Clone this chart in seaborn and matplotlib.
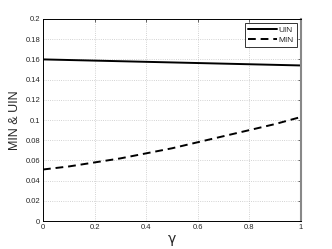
import numpy as np
import pandas as pd
import seaborn as sns
import matplotlib
matplotlib.use('Agg')
import matplotlib.pyplot as plt

gamma = [0.0, 0.1, 0.2, 0.3, 0.4, 0.5, 0.6, 0.7, 0.8, 0.9, 1.0]
uin = [0.160, 0.1594, 0.1588, 0.1582, 0.1576, 0.1570, 0.1564, 0.1558, 0.1552, 0.1546, 0.1540]
min_vals = [0.051, 0.054, 0.058, 0.062, 0.067, 0.072, 0.078, 0.084, 0.090, 0.096, 0.103]

df = pd.DataFrame({'gamma': gamma * 2,
                   'value': uin + min_vals,
                   'series': ['UIN'] * len(gamma) + ['MIN'] * len(gamma)})

sns.set_style('white')
plt.rcParams['font.family'] = ['Liberation Sans', 'DejaVu Sans']

fig = plt.figure(figsize=(3.32, 2.49), dpi=100)
ax = fig.add_axes([0.1295, 0.1124, 0.7771, 0.8113])
sns.lineplot(data=df, x='gamma', y='value', hue='series', style='series',
             palette=['black', 'black'], dashes={'UIN': '', 'MIN': (4, 2.5)},
             linewidth=1.4, ax=ax)
ax.set_xlim(0, 1)
ax.set_ylim(0, 0.2)
ax.set_xticks([0, 0.2, 0.4, 0.6, 0.8, 1])
ax.set_xticklabels(['0', '0.2', '0.4', '0.6', '0.8', '1'])
ax.set_yticks(np.arange(0, 0.201, 0.02))
ax.set_yticklabels(['0', '0.02', '0.04', '0.06', '0.08', '0.1', '0.12', '0.14', '0.16', '0.18', '0.2'])
ax.tick_params(direction='in', labelsize=5.5, length=2.5, width=0.5, top=True, right=True, pad=2)
ax.grid(True, linestyle=':', color='#c4c4c4', linewidth=0.6)
for s in ax.spines.values():
    s.set_color('black')
    s.set_linewidth(0.7)
ax.spines['right'].set_color('#888888')
ax.spines['right'].set_linewidth(1.5)
ax.set_xlabel('γ', fontsize=10, labelpad=1, family=['DejaVu Sans'])
ax.set_ylabel('MIN & UIN', fontsize=9, labelpad=3)
leg = ax.legend(loc='upper right', fontsize=6, frameon=True, fancybox=False,
                edgecolor='black', handlelength=3.5, borderpad=0.35, labelspacing=0.25,
                handletextpad=0.2, borderaxespad=0.5)
leg.get_frame().set_linewidth(0.7)
fig.savefig('out.png', dpi=100)
